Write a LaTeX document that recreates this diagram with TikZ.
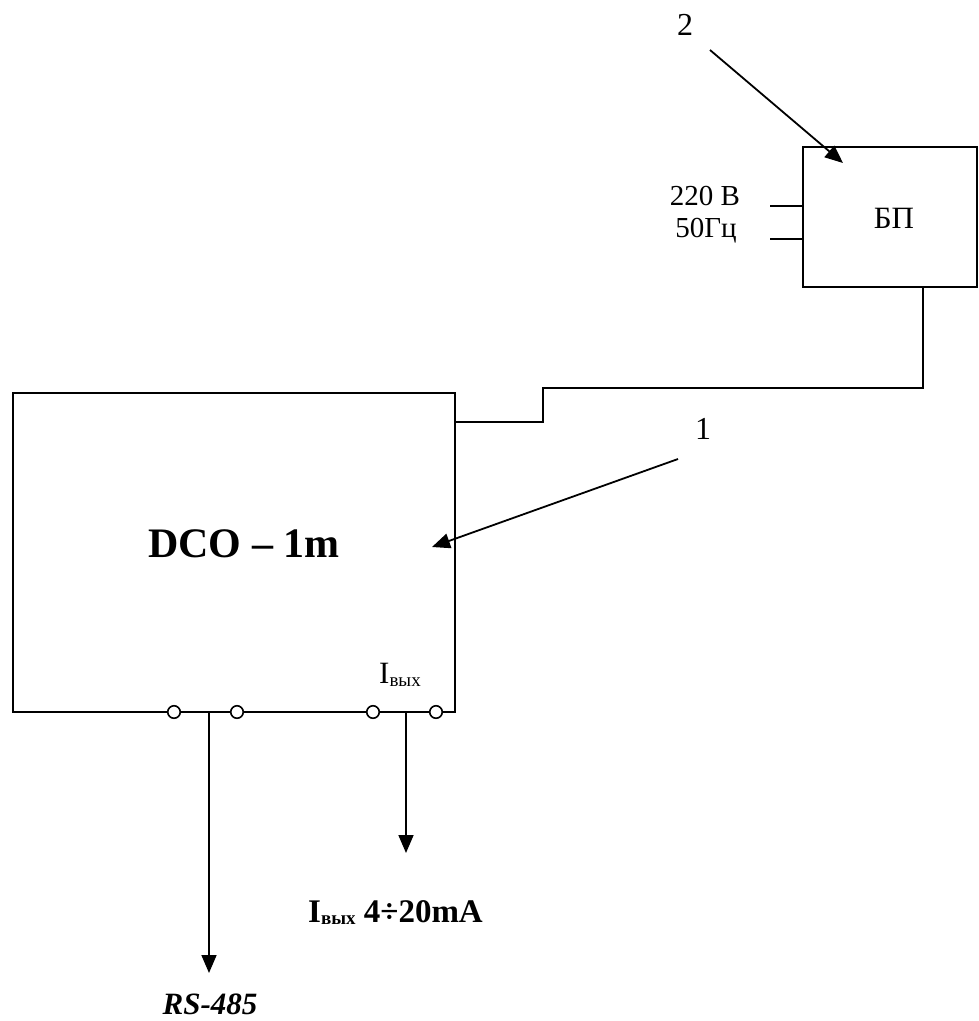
\documentclass[tikz,border=0pt]{standalone}
\usepackage{fontspec}
\setmainfont{Liberation Serif}
\usetikzlibrary{arrows.meta,calc}
\begin{document}
\begin{tikzpicture}[x=1pt,y=-1pt,
  box/.style={draw,line width=1.8pt,inner sep=0,outer sep=0},
  wire/.style={line width=1.8pt},
  arr/.style={wire,-{Triangle[length=18pt,width=15pt]}},
  term/.style={circle,draw,fill=white,line width=1.6pt,minimum size=12.5pt,inner sep=0,outer sep=0},
  lbl/.style={inner sep=0,anchor=base}]
\useasboundingbox (0,0) rectangle (979,1021);
% boxes
\node[box,minimum width=174pt,minimum height=140pt] (bp) at (890,217) {};
\node[lbl,font=\fontsize{31}{33}\selectfont] (bpt) at (894,228) {БП};
\node[box,minimum width=442pt,minimum height=319pt] (dco) at (234,552.5) {};
\node[lbl,font=\bfseries\fontsize{42}{44}\selectfont] (dcot) at (244,557) {DCO – 1m};
% connector BP -> DCO
\coordinate (c1) at (543,422);
\coordinate (c2) at (923,388);
\draw[wire] (dco.east |- c1) -| (c1 |- c2) -| (bp.south -| c2);
% mains input
\coordinate (in1) at (770,206);
\coordinate (in2) at (770,239);
\draw[wire] (in1) -- (bp.west |- in1);
\draw[wire] (in2) -- (bp.west |- in2);
\node[lbl,font=\fontsize{29}{31}\selectfont] (v220) at (705,205) {220 В};
\node[lbl,font=\fontsize{29}{31}\selectfont] (hz) at (706,237) {50Гц};
% callouts
\node[lbl,font=\fontsize{32}{34}\selectfont] (n2) at (685,35) {2};
\coordinate (a2s) at (710,50);
\coordinate (a2e) at (843,163);
\draw[arr] (a2s) -- (a2e);
\node[lbl,font=\fontsize{32}{34}\selectfont] (n1) at (703,439) {1};
\coordinate (a1s) at (678,459);
\coordinate (a1e) at (432,547);
\draw[arr] (a1s) -- (a1e);
% output label inside box
\node[lbl,anchor=base west,font=\fontsize{31}{33}\selectfont] (iout) at (379,683) {I\raisebox{-3pt}{\fontsize{19}{19}\selectfont вых}};
% bottom outputs
\coordinate (rsend) at (209,973);
\coordinate (iend) at (406,853);
\draw[arr] (dco.south -| rsend) -- (rsend);
\draw[arr] (dco.south -| iend) -- (iend);
% terminals
\node[term] (t1) at (174,712) {};
\node[term] (t2) at (237,712) {};
\node[term] (t3) at (373,712) {};
\node[term] (t4) at (436,712) {};
% bottom labels
\node[lbl,anchor=base west,font=\bfseries\fontsize{33}{35}\selectfont] (ibot) at (308,922) {I\raisebox{-2pt}{\fontsize{19}{19}\selectfont вых} 4÷20mA};
\node[lbl,font=\bfseries\itshape\fontsize{31}{33}\selectfont] (rsl) at (210,1014) {RS-485};
\end{tikzpicture}
\end{document}
